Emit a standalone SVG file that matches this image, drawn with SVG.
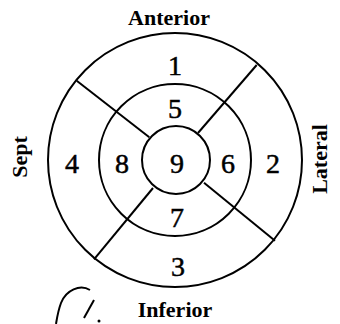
<svg xmlns="http://www.w3.org/2000/svg" width="340" height="324" viewBox="0 0 340 324">
<style>
.ring{fill:none;stroke:#000;stroke-width:2}
.div{stroke:#000;stroke-width:2;fill:none}
.num{font-family:"Liberation Serif",serif;font-size:28px;text-anchor:middle;fill:#000;stroke:#000;stroke-width:0.5}
.lbl{font-family:"Liberation Serif",serif;font-size:22px;font-weight:bold;text-anchor:middle;fill:#000}
</style>
<rect width="340" height="324" fill="#fff"/>
<g id="rings">
<circle class="ring" cx="175" cy="160" r="127"/>
<circle class="ring" cx="175" cy="160" r="76"/>
<circle class="ring" cx="176" cy="160" r="34"/>
</g>
<g id="connectors">
<line class="div" x1="76.7" y1="80.7" x2="149.3" y2="137.3"/>
<line class="div" x1="256.7" y1="65" x2="198" y2="133"/>
<line class="div" x1="204" y1="182.7" x2="275" y2="240.7"/>
<line class="div" x1="153" y1="188" x2="94" y2="259.3"/>
</g>
<g id="seg1"><text class="num" x="175" y="75">1</text></g>
<g id="seg2"><text class="num" x="273" y="173">2</text></g>
<g id="seg3"><text class="num" x="178" y="276">3</text></g>
<g id="seg4"><text class="num" x="72" y="173">4</text></g>
<g id="seg5"><text class="num" x="175" y="118">5</text></g>
<g id="seg6"><text class="num" x="228" y="173">6</text></g>
<g id="seg7"><text class="num" x="177" y="227">7</text></g>
<g id="seg8"><text class="num" x="122" y="173">8</text></g>
<g id="seg9"><text class="num" x="177" y="173">9</text></g>
<g id="labels">
<text class="lbl" x="169" y="25">Anterior</text>
<text class="lbl" x="175" y="317">Inferior</text>
<text class="lbl" transform="translate(27,157) rotate(-90)">Sept</text>
<text class="lbl" transform="translate(327,159) rotate(-90)">Lateral</text>
</g>
<g id="marks" fill="none" stroke="#000" stroke-width="2">
<path d="M90 290 C80 284 66 290 61 303 C58 311 57 318 56 324"/>
<path d="M94 300 L84 318"/>
<circle cx="99" cy="321" r="1.5" fill="#000" stroke="none"/>
</g>
</svg>
